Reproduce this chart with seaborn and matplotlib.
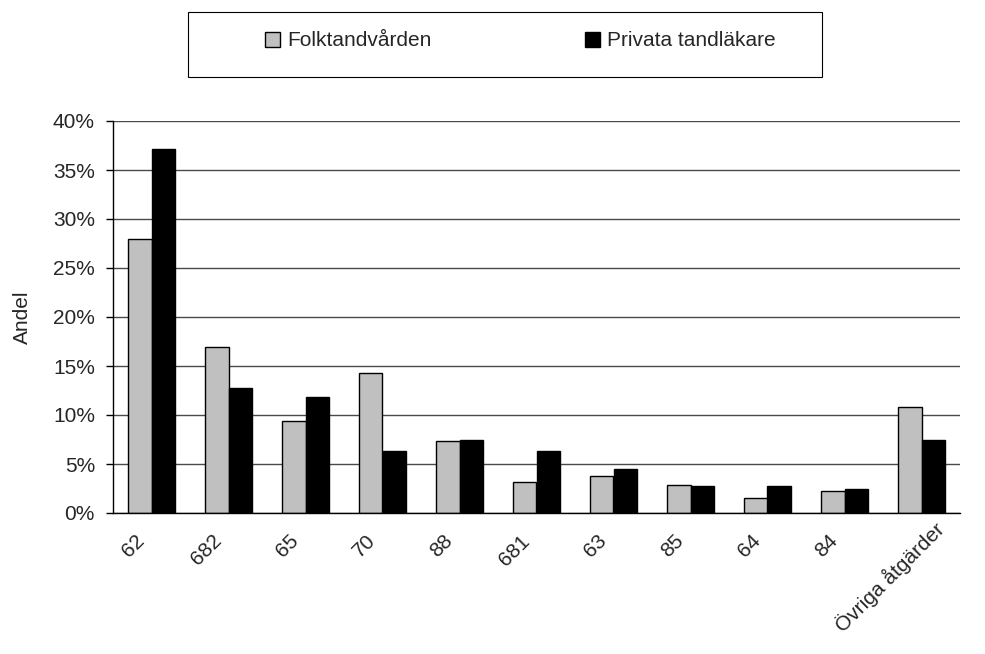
import matplotlib
matplotlib.use("Agg")
import matplotlib.pyplot as plt
import matplotlib.transforms as mtransforms
import seaborn as sns
import pandas as pd
from matplotlib.patches import Patch, Rectangle
from matplotlib.ticker import PercentFormatter, FixedLocator

categories = ["62", "682", "65", "70", "88", "681", "63", "85", "64", "84", "Övriga åtgärder"]
folktandvarden = [28.0, 16.9, 9.4, 14.3, 7.35, 3.2, 3.75, 2.9, 1.5, 2.25, 10.8]
privata = [37.1, 12.8, 11.8, 6.3, 7.5, 6.3, 4.45, 2.8, 2.8, 2.4, 7.5]
series = ["Folktandvården", "Privata tandläkare"]
colors = ["#C0C0C0", "#000000"]

df = pd.DataFrame({
    "Åtgärd": categories * 2,
    "Andel": folktandvarden + privata,
    "Vårdgivare": [series[0]] * len(categories) + [series[1]] * len(categories),
})

sns.set_style("white")
plt.rcParams["font.family"] = ["Liberation Sans", "DejaVu Sans"]
FS = 15

W, H = 985, 654
fig = plt.figure(figsize=(W / 100, H / 100), dpi=100)
ax = fig.add_axes([113 / W, 1 - 513 / H, (960 - 113) / W, (513 - 121) / H])

sns.barplot(data=df, x="Åtgärd", y="Andel", hue="Vårdgivare", palette=colors,
            width=0.62, edgecolor="black", linewidth=1.0, ax=ax, legend=False,
            saturation=1)

ax.set_ylim(0, 40)
ax.set_xlim(-0.5, len(categories) - 0.5)
ax.yaxis.set_major_locator(FixedLocator(range(0, 41, 5)))
ax.yaxis.set_major_formatter(PercentFormatter(decimals=0))
ax.grid(axis="y", color="#4a4a4a", linewidth=1.0)
ax.set_axisbelow(True)

for s in ["top", "right"]:
    ax.spines[s].set_visible(False)
for s in ["left", "bottom"]:
    ax.spines[s].set_color("black")
    ax.spines[s].set_linewidth(1.0)

# category labels under each group, tick marks on the group boundaries
ax.set_xticks(range(len(categories)))
ax.set_xticklabels(categories, rotation=45, ha="right", va="center",
                   rotation_mode="anchor", fontsize=FS)
ax.tick_params(axis="x", which="major", length=0, pad=18)
ax.set_xticks([i + 0.5 for i in range(len(categories) - 1)], minor=True)
ax.tick_params(axis="x", which="minor", direction="out", length=5, width=1, color="black")
ax.tick_params(axis="y", direction="out", length=5, width=1, color="black",
               labelsize=FS, pad=8, left=True)

labels = ax.get_xticklabels()
for i, lbl in enumerate(labels):
    dx, dy = -10, 0
    if i == len(labels) - 1:
        # the long label sits further up and to the right
        dx, dy = 20, 12
    lbl.set_transform(lbl.get_transform() +
                      mtransforms.ScaledTranslation(dx / 100, dy / 100, fig.dpi_scale_trans))

ax.set_xlabel("")
ax.set_ylabel("Andel", fontsize=FS, labelpad=15)

# legend inside a plain rectangular box above the plot
fig.patches.append(Rectangle((188 / W, 1 - 77 / H), (822 - 188) / W, 65 / H,
                             transform=fig.transFigure, facecolor="white",
                             edgecolor="black", linewidth=0.8))
handles = [Patch(facecolor=c, edgecolor="black", linewidth=1.0) for c in colors]
fig.legend(handles, series, loc="center left", bbox_to_anchor=(265 / W, 1 - 41 / H),
           ncol=2, frameon=False, fontsize=FS, handlelength=0.7,
           handleheight=0.7, handletextpad=0.35, columnspacing=7.4,
           borderpad=0, borderaxespad=0)

fig.savefig("out.png", dpi=100, facecolor="white")
